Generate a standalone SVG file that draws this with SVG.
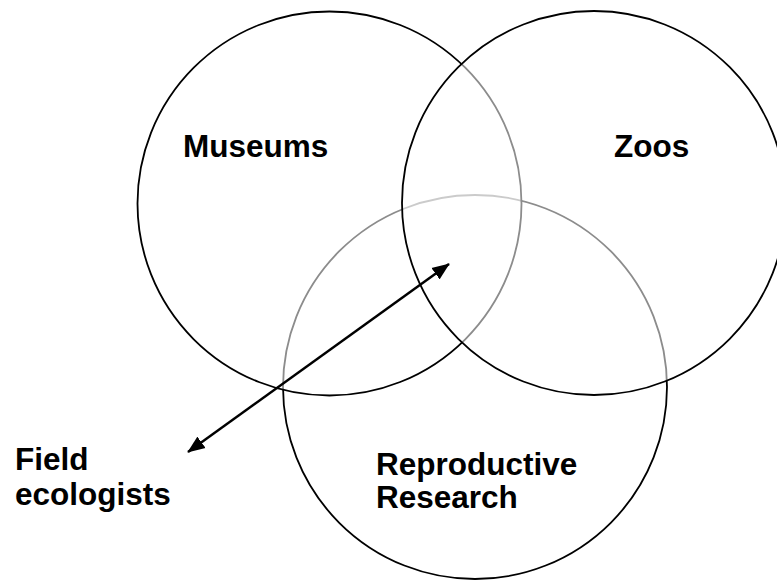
<svg xmlns="http://www.w3.org/2000/svg" width="777" height="585" viewBox="0 0 777 585">
<style>
.c{fill:#fff;fill-opacity:0.55;stroke:#000;stroke-width:1.8}
.t{font-family:"Liberation Sans",Arial,sans-serif;font-weight:bold;font-size:31.5px;fill:#000}
</style>
<defs>
<marker id="ah" viewBox="0 0 10 8" refX="9.5" refY="4" markerWidth="7" markerHeight="6" orient="auto-start-reverse" markerUnits="strokeWidth">
<path d="M0,0 L10,4 L0,8 z" fill="#000"/>
</marker>
</defs>
<rect width="777" height="585" fill="#fff"/>
<g id="reproductive"><circle class="c" cx="475" cy="387" r="192"/></g>
<g id="museums"><circle class="c" cx="329.5" cy="203.5" r="192"/></g>
<g id="zoos"><circle class="c" cx="594" cy="203" r="192"/></g>
<g id="connectors">
<line x1="188" y1="452" x2="449" y2="264" stroke="#000" stroke-width="2.5" marker-start="url(#ah)" marker-end="url(#ah)"/>
</g>
<g id="labels">
<text class="t" x="183" y="157">Museums</text>
<text class="t" x="614" y="157">Zoos</text>
<text class="t" x="376" y="475">Reproductive</text>
<text class="t" x="376" y="508">Research</text>
<text class="t" x="15" y="470">Field</text>
<text class="t" x="15" y="505">ecologists</text>
</g>
</svg>
